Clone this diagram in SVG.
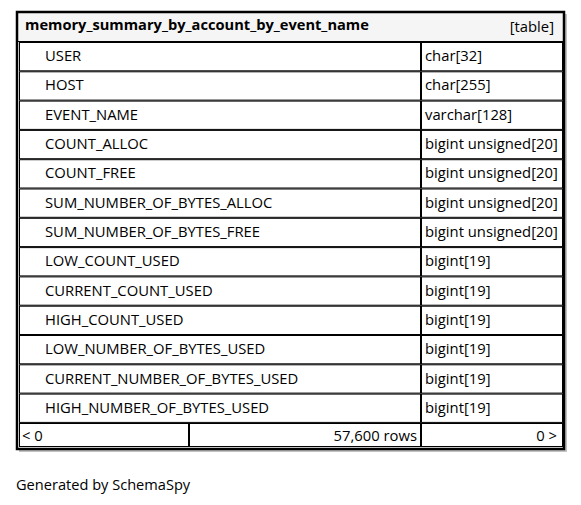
<svg xmlns="http://www.w3.org/2000/svg" width="581" height="505" viewBox="0 0 581 505">
<style>
text{font-family:"Open Sans","Noto Sans","DejaVu Sans",sans-serif;font-size:14.8px;fill:#000}
.b{font-weight:bold;font-size:14.65px}
.r{text-anchor:end}
.g{font-size:14.6px}
.cell{fill:none;stroke:#000;stroke-width:1}
</style>
<rect x="0" y="0" width="581" height="505" fill="#fff"/>
<g id="table">
<rect x="19" y="14" width="548" height="438" fill="#9a9a9a" opacity="0.6"/>
<rect x="17" y="12" width="547" height="437" fill="#fff"/>
<rect x="18" y="13" width="545" height="28" fill="#f5f5f5"/>
<text class="b" x="25" y="30">memory_summary_by_account_by_event_name</text>
<text class="r" x="554" y="32">[table]</text>
<g id="rows">
<rect class="cell" x="19.5" y="42.5" width="401" height="28.3"/><rect class="cell" x="421.5" y="42.5" width="141" height="28.3"/>
<text x="45" y="61">USER</text><text x="425" y="61">char[32]</text>
<rect class="cell" x="19.5" y="71.8" width="401" height="28.3"/><rect class="cell" x="421.5" y="71.8" width="141" height="28.3"/>
<text x="45" y="90">HOST</text><text x="425" y="90">char[255]</text>
<rect class="cell" x="19.5" y="101.1" width="401" height="28.3"/><rect class="cell" x="421.5" y="101.1" width="141" height="28.3"/>
<text x="45" y="120">EVENT_NAME</text><text x="425" y="120">varchar[128]</text>
<rect class="cell" x="19.5" y="130.4" width="401" height="28.3"/><rect class="cell" x="421.5" y="130.4" width="141" height="28.3"/>
<text x="45" y="149">COUNT_ALLOC</text><text x="425" y="149">bigint unsigned[20]</text>
<rect class="cell" x="19.5" y="159.7" width="401" height="28.3"/><rect class="cell" x="421.5" y="159.7" width="141" height="28.3"/>
<text x="45" y="178">COUNT_FREE</text><text x="425" y="178">bigint unsigned[20]</text>
<rect class="cell" x="19.5" y="189" width="401" height="28.3"/><rect class="cell" x="421.5" y="189" width="141" height="28.3"/>
<text x="45" y="208">SUM_NUMBER_OF_BYTES_ALLOC</text><text x="425" y="208">bigint unsigned[20]</text>
<rect class="cell" x="19.5" y="218.3" width="401" height="28.3"/><rect class="cell" x="421.5" y="218.3" width="141" height="28.3"/>
<text x="45" y="237">SUM_NUMBER_OF_BYTES_FREE</text><text x="425" y="237">bigint unsigned[20]</text>
<rect class="cell" x="19.5" y="247.6" width="401" height="28.3"/><rect class="cell" x="421.5" y="247.6" width="141" height="28.3"/>
<text x="45" y="266">LOW_COUNT_USED</text><text x="425" y="266">bigint[19]</text>
<rect class="cell" x="19.5" y="276.9" width="401" height="28.3"/><rect class="cell" x="421.5" y="276.9" width="141" height="28.3"/>
<text x="45" y="296">CURRENT_COUNT_USED</text><text x="425" y="296">bigint[19]</text>
<rect class="cell" x="19.5" y="306.2" width="401" height="28.3"/><rect class="cell" x="421.5" y="306.2" width="141" height="28.3"/>
<text x="45" y="325">HIGH_COUNT_USED</text><text x="425" y="325">bigint[19]</text>
<rect class="cell" x="19.5" y="335.5" width="401" height="28.3"/><rect class="cell" x="421.5" y="335.5" width="141" height="28.3"/>
<text x="45" y="354">LOW_NUMBER_OF_BYTES_USED</text><text x="425" y="354">bigint[19]</text>
<rect class="cell" x="19.5" y="364.8" width="401" height="28.3"/><rect class="cell" x="421.5" y="364.8" width="141" height="28.3"/>
<text x="45" y="384">CURRENT_NUMBER_OF_BYTES_USED</text><text x="425" y="384">bigint[19]</text>
<rect class="cell" x="19.5" y="394.1" width="401" height="28.3"/><rect class="cell" x="421.5" y="394.1" width="141" height="28.3"/>
<text x="45" y="413">HIGH_NUMBER_OF_BYTES_USED</text><text x="425" y="413">bigint[19]</text>
</g>
<g id="footer">
<rect class="cell" x="19.5" y="423.5" width="169" height="23"/>
<rect class="cell" x="189.5" y="423.5" width="231" height="23"/>
<rect class="cell" x="421.5" y="423.5" width="141" height="23"/>
<text x="22" y="441">&lt; 0</text>
<text class="r" x="417" y="441">57,600 rows</text>
<text class="r" x="557" y="441">0 &gt;</text>
</g>
<rect x="17" y="12" width="547" height="437" fill="none" stroke="#000" stroke-width="2.5"/>
<line x1="17" y1="41.5" x2="564" y2="41.5" stroke="#000" stroke-width="1"/>
</g>
<g id="connectors"/>
<text class="g" x="16" y="490">Generated by SchemaSpy</text>
</svg>
